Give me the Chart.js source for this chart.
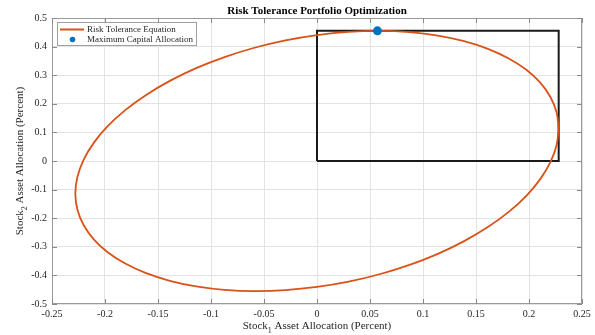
<!DOCTYPE html>
<html>
<head>
<meta charset="utf-8">
<script src="https://cdn.jsdelivr.net/npm/chart.js@4/dist/chart.umd.min.js"></script>
<style>
  html, body { margin: 0; padding: 0; background: #ffffff; }
  #wrap { width: 595px; height: 335px; }
</style>
</head>
<body>
<div id="wrap"><canvas id="c" width="595" height="335"></canvas></div>
<script>
// Risk tolerance boundary (closed curve), stock 1 vs stock 2 allocation
const ellipseX = [0.228, 0.2260, 0.2202, 0.2106, 0.1975, 0.1809, 0.1612, 0.1388, 0.1140, 0.0873, 0.0590, 0.0298,
  0.0000, -0.0298, -0.0590, -0.0873, -0.1140, -0.1388, -0.1612, -0.1809, -0.1975, -0.2106, -0.2202, -0.2260,
  -0.228, -0.2260, -0.2202, -0.2106, -0.1975, -0.1809, -0.1612, -0.1388, -0.1140, -0.0873, -0.0590, -0.0298,
  0.0000, 0.0298, 0.0590, 0.0873, 0.1140, 0.1388, 0.1612, 0.1809, 0.1975, 0.2106, 0.2202, 0.2260, 0.228];
const ellipseY = [0.114, 0.1703, 0.2239, 0.2737, 0.3188, 0.3584, 0.3920, 0.4188, 0.4384, 0.4505, 0.4549, 0.4516,
  0.4405, 0.4219, 0.3960, 0.3634, 0.3246, 0.2802, 0.2310, 0.1779, 0.1217, 0.0634, 0.0041, -0.0553,
  -0.114, -0.1703, -0.2239, -0.2737, -0.3188, -0.3584, -0.3920, -0.4188, -0.4384, -0.4505, -0.4549, -0.4516,
  -0.4405, -0.4219, -0.3960, -0.3634, -0.3246, -0.2802, -0.2310, -0.1779, -0.1217, -0.0634, -0.0041, 0.0553, 0.114];

// Feasible long-only allocation box
const boxX = [0, 0, 0.228, 0.228, 0];
const boxY = [0, 0.455, 0.455, 0, 0];

// Maximum capital allocation point
const optimumX = [0.057];
const optimumY = [0.455];

// Axis ranges and tick steps
const xRange = [-0.25, 0.25];
const yRange = [-0.5, 0.5];
const xStep = 0.05;
const yStep = 0.1;

const seriesLabels = ['Risk Tolerance Equation', 'Maximum Capital Allocation'];
const chartTitle = 'Risk Tolerance Portfolio Optimization';
const xTitleParts = ['Stock', '1', ' Asset Allocation (Percent)'];
const yTitleParts = ['Stock', '2', ' Asset Allocation (Percent)'];

const toPoints = (xs, ys) => xs.map((x, i) => ({ x: x, y: ys[i] }));

const ORANGE = '#D95319';
const BLUE = '#0072BD';
const SERIF = '"Liberation Serif", "Times New Roman", Times, serif';

Chart.defaults.font.family = SERIF;
Chart.defaults.font.size = 10;
Chart.defaults.color = '#262626';

function fmt(v) {
  return String(Number(v.toFixed(2)));
}

// Writes a label with a lowered subscript, centred at (0,0) of the current transform
function drawSubscripted(ctx, parts, size) {
  const big = size + 'px ' + SERIF;
  const small = Math.round(size * 0.72) + 'px ' + SERIF;
  ctx.font = big; const w0 = ctx.measureText(parts[0]).width;
  ctx.font = small; const w1 = ctx.measureText(parts[1]).width;
  ctx.font = big; const w2 = ctx.measureText(parts[2]).width;
  let x = -(w0 + w1 + w2) / 2;
  ctx.textAlign = 'left';
  ctx.textBaseline = 'alphabetic';
  ctx.font = big; ctx.fillText(parts[0], x, 0); x += w0;
  ctx.font = small; ctx.fillText(parts[1], x, 3.5); x += w1;
  ctx.font = big; ctx.fillText(parts[2], x, 0);
}

const decorations = {
  id: 'decorations',
  beforeDatasetsDraw(chart) {
    const { ctx, chartArea: a, scales } = chart;
    ctx.save();
    // axes box
    ctx.strokeStyle = '#9a9a9a';
    ctx.lineWidth = 1;
    ctx.strokeRect(a.left + 0.5, a.top + 0.5, a.right - a.left - 1, a.bottom - a.top - 1);
    // inward tick marks on all four sides
    ctx.strokeStyle = '#8a8a8a';
    const len = 5;
    ctx.beginPath();
    scales.x.ticks.forEach(t => {
      const px = Math.round(scales.x.getPixelForValue(t.value)) + 0.5;
      ctx.moveTo(px, a.bottom); ctx.lineTo(px, a.bottom - len);
      ctx.moveTo(px, a.top); ctx.lineTo(px, a.top + len);
    });
    scales.y.ticks.forEach(t => {
      const py = Math.round(scales.y.getPixelForValue(t.value)) + 0.5;
      ctx.moveTo(a.left, py); ctx.lineTo(a.left + len, py);
      ctx.moveTo(a.right, py); ctx.lineTo(a.right - len, py);
    });
    ctx.stroke();
    ctx.restore();
  },
  afterDraw(chart) {
    const { ctx, chartArea: a } = chart;
    ctx.save();
    // title
    ctx.fillStyle = '#000000';
    ctx.font = 'bold 11px ' + SERIF;
    ctx.textAlign = 'center';
    ctx.textBaseline = 'alphabetic';
    ctx.fillText(chartTitle, (a.left + a.right) / 2, 14);

    // axis titles
    ctx.fillStyle = '#262626';
    ctx.save();
    ctx.translate((a.left + a.right) / 2, 329);
    drawSubscripted(ctx, xTitleParts, 11);
    ctx.restore();
    ctx.save();
    ctx.translate(23, (a.top + a.bottom) / 2);
    ctx.rotate(-Math.PI / 2);
    drawSubscripted(ctx, yTitleParts, 11);
    ctx.restore();

    // legend
    const lx = a.left + 5, ly = a.top + 4, lw = 139, lh = 23;
    ctx.fillStyle = '#ffffff';
    ctx.fillRect(lx, ly, lw, lh);
    ctx.strokeStyle = '#a0a0a0';
    ctx.lineWidth = 1;
    ctx.strokeRect(lx + 0.5, ly + 0.5, lw, lh);
    const ds = chart.data.datasets;
    ctx.strokeStyle = ds[1].borderColor;
    ctx.lineWidth = 2;
    ctx.beginPath();
    ctx.moveTo(lx + 3, ly + 7.5); ctx.lineTo(lx + 27, ly + 7.5);
    ctx.stroke();
    ctx.fillStyle = ds[0].backgroundColor;
    ctx.beginPath();
    ctx.arc(lx + 15.5, ly + 17.5, 2.8, 0, Math.PI * 2);
    ctx.fill();
    ctx.fillStyle = '#262626';
    ctx.font = '9px ' + SERIF;
    ctx.textAlign = 'left';
    ctx.textBaseline = 'middle';
    ctx.fillText(ds[1].label, lx + 30, ly + 7.5);
    ctx.fillText(ds[0].label, lx + 30, ly + 17.5);
    ctx.restore();
  }
};

new Chart(document.getElementById('c'), {
  type: 'scatter',
  data: {
    datasets: [
      {
        label: seriesLabels[1],
        data: toPoints(optimumX, optimumY),
        backgroundColor: BLUE,
        borderColor: BLUE,
        pointRadius: 4.5,
        pointBorderWidth: 0,
        order: 0
      },
      {
        label: seriesLabels[0],
        data: toPoints(ellipseX, ellipseY),
        showLine: true,
        tension: 0.4,
        borderColor: ORANGE,
        borderWidth: 1.8,
        pointRadius: 0,
        fill: false,
        order: 1
      },
      {
        label: 'box',
        data: toPoints(boxX, boxY),
        showLine: true,
        borderColor: '#1a1a1a',
        borderWidth: 2,
        pointRadius: 0,
        fill: false,
        order: 2
      }
    ]
  },
  options: {
    responsive: false,
    animation: false,
    devicePixelRatio: 1,
    layout: { padding: { left: 0, right: 13, top: 18, bottom: 0 } },
    plugins: {
      legend: { display: false },
      title: { display: false },
      tooltip: { enabled: false }
    },
    scales: {
      x: {
        type: 'linear',
        min: xRange[0], max: xRange[1],
        afterFit: s => { s.height = 31; },
        border: { display: false },
        grid: { color: '#e3e3e3', drawTicks: false },
        ticks: { stepSize: xStep, padding: 4, maxRotation: 0, autoSkip: false, callback: v => fmt(v), color: '#262626', font: { size: 10 } }
      },
      y: {
        type: 'linear',
        min: yRange[0], max: yRange[1],
        afterFit: s => { s.width = 52; },
        border: { display: false },
        grid: { color: '#e3e3e3', drawTicks: false },
        ticks: { stepSize: yStep, padding: 5, autoSkip: false, callback: v => fmt(v), color: '#262626', font: { size: 10 } }
      }
    }
  },
  plugins: [decorations]
});
</script>
</body>
</html>
